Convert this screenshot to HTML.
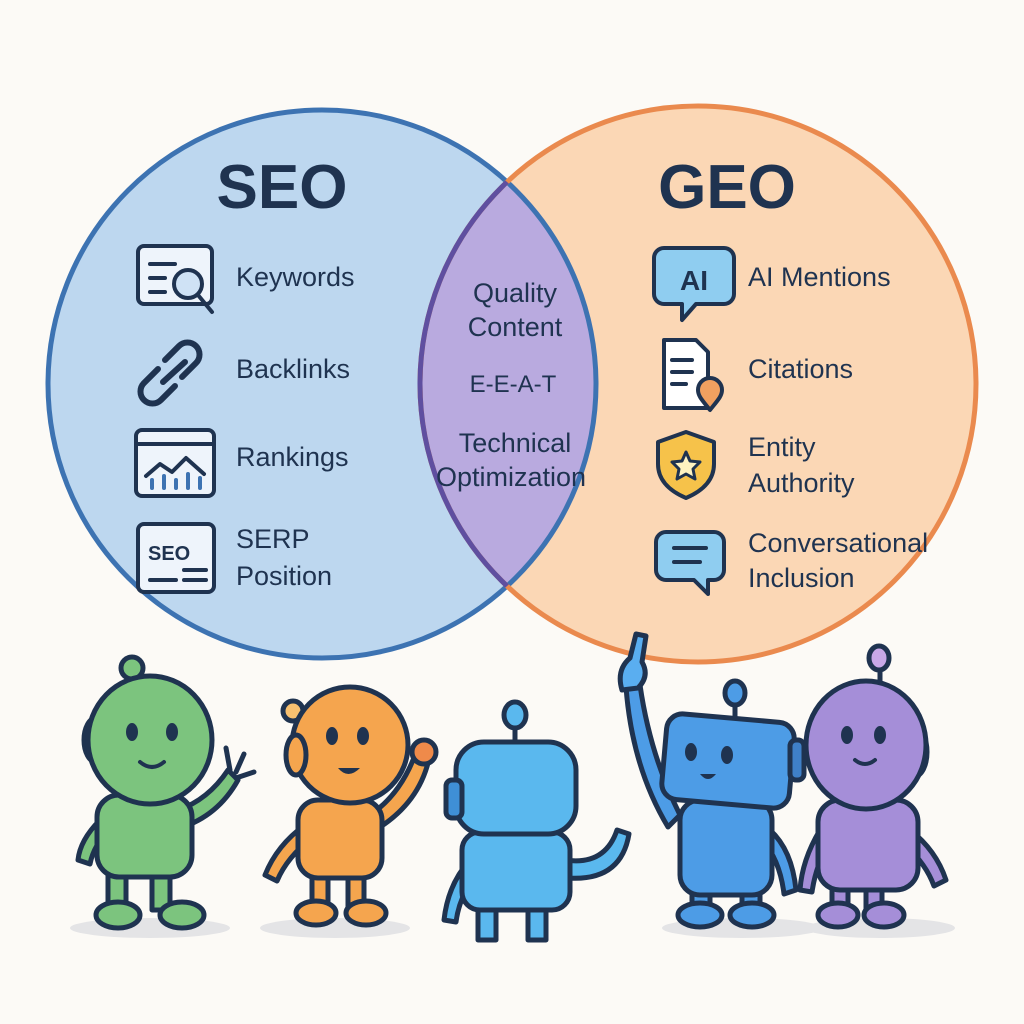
<!DOCTYPE html>
<html><head><meta charset="utf-8"><style>
html,body{margin:0;padding:0;background:#fcfaf6}
svg{display:block}
text{font-family:"Liberation Sans","DejaVu Sans",sans-serif;fill:#1f3350}
</style></head><body>
<svg width="1024" height="1024" viewBox="0 0 1024 1024" xmlns="http://www.w3.org/2000/svg">
<rect width="1024" height="1024" fill="#fcfaf6"/>
<defs>
<clipPath id="c1"><circle cx="322" cy="384" r="274"/></clipPath>
</defs>
<circle cx="322" cy="384" r="274" fill="#bdd7ef"/>
<circle cx="698" cy="384" r="278" fill="#fbd7b5"/>
<circle cx="698" cy="384" r="278" fill="#b9aadf" clip-path="url(#c1)"/>
<circle cx="322" cy="384" r="274" fill="none" stroke="#3d73b2" stroke-width="5"/>
<circle cx="698" cy="384" r="278" fill="none" stroke="#ea8a4e" stroke-width="5"/>
<g clip-path="url(#c1)"><circle cx="698" cy="384" r="278" fill="none" stroke="#5f4fa0" stroke-width="5"/></g>

<text x="282" y="208" font-size="62" font-weight="bold" text-anchor="middle" fill="#1b3a68">SEO</text>
<text x="727" y="208" font-size="62" font-weight="bold" text-anchor="middle">GEO</text>

<g font-size="27">
<text x="236" y="286">Keywords</text>
<text x="236" y="378">Backlinks</text>
<text x="236" y="466">Rankings</text>
<text x="236" y="548">SERP</text>
<text x="236" y="585">Position</text>
<text x="515" y="302" text-anchor="middle">Quality</text>
<text x="515" y="336" text-anchor="middle">Content</text>
<text x="513" y="392" text-anchor="middle" font-size="24">E-E-A-T</text>
<text x="515" y="452" text-anchor="middle">Technical</text>
<text x="511" y="486" text-anchor="middle">Optimization</text>
<text x="748" y="286">AI Mentions</text>
<text x="748" y="378">Citations</text>
<text x="748" y="456">Entity</text>
<text x="748" y="492">Authority</text>
<text x="748" y="552">Conversational</text>
<text x="748" y="587">Inclusion</text>
</g>

<!-- SEO icons -->
<g stroke="#1f3350" stroke-width="4" fill="#fff" stroke-linejoin="round" stroke-linecap="round">
<rect x="138" y="246" width="74" height="58" rx="6" fill="#eef4fb"/>
<line x1="150" y1="264" x2="175" y2="264"/><line x1="150" y1="278" x2="165" y2="278"/><line x1="150" y1="292" x2="165" y2="292"/>
<circle cx="188" cy="284" r="14" fill="#cfe2f5"/><line x1="198" y1="295" x2="212" y2="312"/>
<g fill="none" stroke-width="6"><path d="M165 360 l14 -14 a12 12 0 0 1 17 17 l-14 14"/><path d="M175 386 l-14 14 a12 12 0 0 1 -17 -17 l14 -14"/><line x1="163" y1="382" x2="185" y2="362"/></g>
<rect x="136" y="430" width="78" height="66" rx="6" fill="#eef4fb"/>
<line x1="136" y1="444" x2="214" y2="444"/>
<path d="M146 476 l14 -12 l12 8 l14 -14 l18 16" fill="none"/>
<g stroke="#3d73b2"><line x1="152" y1="488" x2="152" y2="480"/><line x1="164" y1="488" x2="164" y2="476"/><line x1="176" y1="488" x2="176" y2="480"/><line x1="188" y1="488" x2="188" y2="474"/><line x1="200" y1="488" x2="200" y2="478"/></g>
<rect x="138" y="524" width="76" height="68" rx="6" fill="#eef4fb"/>
<line x1="184" y1="570" x2="206" y2="570"/><line x1="184" y1="580" x2="206" y2="580"/><line x1="150" y1="580" x2="176" y2="580"/>
</g>
<text x="148" y="560" font-size="20" font-weight="bold">SEO</text>

<!-- GEO icons -->
<g stroke="#1f3350" stroke-width="4" stroke-linejoin="round" stroke-linecap="round">
<path d="M664 248 h60 a10 10 0 0 1 10 10 v36 a10 10 0 0 1 -10 10 h-28 l-14 16 v-16 h-18 a10 10 0 0 1 -10 -10 v-36 a10 10 0 0 1 10 -10z" fill="#8fcdf0"/>
<path d="M664 340 h32 l12 12 v56 h-44z" fill="#fff"/>
<line x1="672" y1="360" x2="692" y2="360"/><line x1="672" y1="372" x2="692" y2="372"/><line x1="672" y1="384" x2="686" y2="384"/>
<path d="M710 410 c-8 -10 -12 -14 -12 -20 a12 12 0 0 1 24 0 c0 6 -4 10 -12 20z" fill="#f0a060"/>
<path d="M686 432 l28 10 v22 c0 18 -14 28 -28 34 c-14 -6 -28 -16 -28 -34 v-22z" fill="#f6c24a"/>
<path d="M686 452 l4 9 l10 1 l-7 7 l2 10 l-9 -5 l-9 5 l2 -10 l-7 -7 l10 -1z" fill="#fff3c0" stroke-width="3"/>
<path d="M666 532 h48 a10 10 0 0 1 10 10 v28 a10 10 0 0 1 -10 10 h-6 v14 l-14 -14 h-28 a10 10 0 0 1 -10 -10 v-28 a10 10 0 0 1 10 -10z" fill="#8fcdf0"/>
<line x1="674" y1="548" x2="706" y2="548"/><line x1="674" y1="562" x2="700" y2="562"/>
</g>
<text x="694" y="290" font-size="28" font-weight="bold" text-anchor="middle">AI</text>

<!-- shadows -->
<g fill="#e4e4e6">
<ellipse cx="150" cy="928" rx="80" ry="10"/><ellipse cx="335" cy="928" rx="75" ry="10"/>
<ellipse cx="742" cy="928" rx="80" ry="10"/><ellipse cx="880" cy="928" rx="75" ry="10"/>
</g>

<g stroke="#1f3350" stroke-width="5" stroke-linejoin="round" stroke-linecap="round">
<!-- green -->
<g fill="#7cc47e">
<line x1="140" y1="680" x2="145" y2="678"/>
<line x1="136" y1="678" x2="138" y2="700"/>
<circle cx="132" cy="668" r="11"/>
<path d="M178 810 q30 -10 50 -40 l10 10 q-20 36 -58 48z"/>
<path d="M230 770 l-4 -22 M236 772 l8 -18 M236 778 l18 -6"/>
<path d="M100 820 q-20 20 -22 40 l12 4 q4 -20 20 -34z"/>
<rect x="108" y="860" width="18" height="50"/><rect x="152" y="860" width="18" height="50"/>
<rect x="97" y="795" width="95" height="82" rx="22"/>
<ellipse cx="118" cy="915" rx="22" ry="13"/><ellipse cx="182" cy="915" rx="22" ry="13"/>
<ellipse cx="96" cy="740" rx="12" ry="22"/>
<ellipse cx="150" cy="740" rx="62" ry="64"/>
</g>
<circle cx="135" cy="825" r="0"/>
<!-- orange -->
<g fill="#f5a54e">
<line x1="296" y1="720" x2="304" y2="742"/><circle cx="293" cy="711" r="10" fill="#f7c070"/>
<path d="M370 815 q30 -20 45 -60 l14 4 q-10 44 -52 70z"/>
<circle cx="424" cy="752" r="12" fill="#ef8a4a"/>
<path d="M305 825 q-28 20 -40 50 l12 6 q10 -24 36 -44z"/>
<rect x="312" y="870" width="16" height="40"/><rect x="348" y="870" width="16" height="40"/>
<rect x="298" y="800" width="84" height="78" rx="20"/>
<ellipse cx="316" cy="913" rx="20" ry="12"/><ellipse cx="366" cy="913" rx="20" ry="12"/>
<ellipse cx="350" cy="745" rx="58" ry="58"/>
<ellipse cx="296" cy="755" rx="10" ry="20"/>
</g>
<!-- center blue -->
<g fill="#5ab8ee">
<line x1="515" y1="728" x2="515" y2="745"/><ellipse cx="515" cy="715" rx="11" ry="13"/>
<path d="M565 860 q40 6 52 -30 l12 4 q-8 48 -62 44z"/>
<path d="M470 860 q-22 24 -26 60 l12 2 q4 -30 24 -50z"/>
<rect x="478" y="895" width="18" height="45"/><rect x="528" y="895" width="18" height="45"/>
<rect x="462" y="832" width="108" height="78" rx="18"/>
<rect x="456" y="742" width="120" height="92" rx="28"/>
<rect x="446" y="780" width="16" height="38" rx="6" fill="#3f8fd6"/>
</g>
<!-- right blue -->
<g fill="#4d9ce6">
<path d="M680 815 q-30 -60 -40 -130 l-14 2 q6 80 42 140z"/>
<path d="M622 690 q-6 -20 8 -32 l6 -24 l10 2 l-4 26 q8 14 -4 26z" fill="#5aaef0"/>
<line x1="735" y1="700" x2="735" y2="722"/><ellipse cx="735" cy="693" rx="10" ry="12"/>
<path d="M770 830 q22 20 26 60 l-12 4 q-4 -34 -22 -54z"/>
<rect x="692" y="885" width="18" height="28"/><rect x="742" y="885" width="18" height="28"/>
<rect x="680" y="800" width="92" height="95" rx="20"/>
<ellipse cx="700" cy="915" rx="22" ry="12"/><ellipse cx="752" cy="915" rx="22" ry="12"/>
<rect x="664" y="718" width="128" height="86" rx="16" transform="rotate(5 728 761)"/>
<rect x="790" y="740" width="14" height="40" rx="6" fill="#3f80c8"/>
</g>
<!-- purple -->
<g fill="#a58ed8">
<line x1="880" y1="668" x2="880" y2="688"/><ellipse cx="879" cy="658" rx="10" ry="12" fill="#c8a8e8"/>
<path d="M820 830 q-18 30 -20 60 l12 2 q4 -28 18 -50z"/>
<path d="M910 830 q26 20 36 50 l-12 6 q-8 -22 -28 -40z"/>
<rect x="832" y="880" width="16" height="32"/><rect x="866" y="880" width="16" height="32"/>
<rect x="818" y="800" width="100" height="90" rx="22"/>
<ellipse cx="838" cy="915" rx="20" ry="12"/><ellipse cx="884" cy="915" rx="20" ry="12"/>
<ellipse cx="915" cy="752" rx="12" ry="24" fill="#8a74c8"/>
<ellipse cx="866" cy="745" rx="60" ry="64"/>
</g>
</g>
<!-- faces -->
<g fill="#1f3350">
<ellipse cx="132" cy="732" rx="6" ry="9"/><ellipse cx="172" cy="732" rx="6" ry="9"/>
<ellipse cx="332" cy="736" rx="6" ry="9"/><ellipse cx="363" cy="736" rx="6" ry="9"/>
<path d="M338 768 q10 12 22 0z"/>
<ellipse cx="691" cy="752" rx="6" ry="9"/><ellipse cx="727" cy="755" rx="6" ry="9"/>
<path d="M700 774 q8 10 16 0z"/>
<ellipse cx="847" cy="735" rx="6" ry="9"/><ellipse cx="880" cy="735" rx="6" ry="9"/>
</g>
<g fill="none" stroke="#1f3350" stroke-width="4" stroke-linecap="round">
<path d="M140 762 q12 10 24 0"/><path d="M855 760 q10 8 20 0"/>
</g>
</svg>
</body></html>
